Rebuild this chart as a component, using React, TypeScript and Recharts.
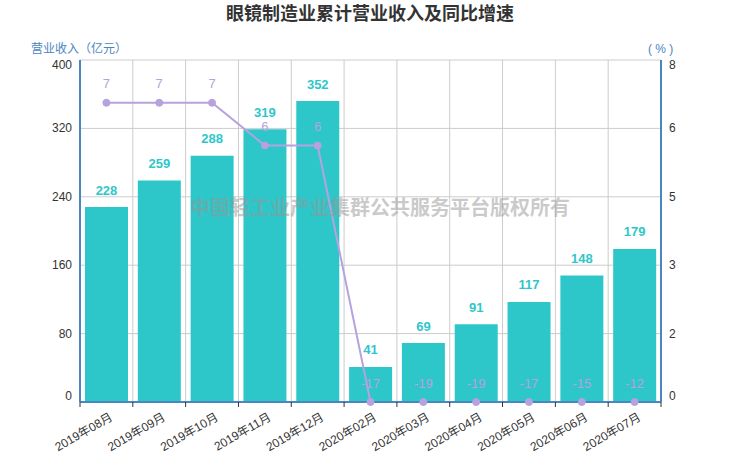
import React from 'react';
import { ComposedChart, Bar, Line, XAxis, YAxis, CartesianGrid, LabelList } from 'recharts';

const categories = ['2019年08月', '2019年09月', '2019年10月', '2019年11月', '2019年12月', '2020年02月', '2020年03月', '2020年04月', '2020年05月', '2020年06月', '2020年07月'];
const revenue = [228, 259, 288, 319, 352, 41, 69, 91, 117, 148, 179];
const growth = [7, 7, 7, 6, 6, -17, -19, -19, -17, -15, -12];
const leftTicks = [0, 80, 160, 240, 320, 400];
const rightTicks = [0, 1.6, 3.2, 4.8, 6.4, 8];

const data = categories.map((c, i) => ({ name: c, revenue: revenue[i], growth: growth[i] }));

const W = 740;
const H = 462;
const LEFT_W = 80;
const RIGHT_W = 79;
const TOP = 60;
const XAXIS_H = 60;
const PLOT_W = W - LEFT_W - RIGHT_W;
const PLOT_BOTTOM = H - XAXIS_H;
const N = categories.length;
const BAND = PLOT_W / N;

const FONT = "'Liberation Sans', Arial, 'Noto Sans CJK SC', sans-serif";
const BAR_COLOR = '#2ec7c9';
const LINE_COLOR = '#b6a2de';
const AXIS_COLOR = '#4a86bf';
const GRID_COLOR = '#cccccc';
const TEXT_COLOR = '#333333';

const LeftTick = (props: any) => {
  const { y, payload, index } = props;
  const dy = index === 0 ? -6 : index === leftTicks.length - 1 ? 5 : 0;
  return (
    <text x={LEFT_W - 8} y={y + dy} textAnchor="end" dominantBaseline="central" fontSize={12} fill={TEXT_COLOR} fontFamily={FONT}>
      {payload.value}
    </text>
  );
};

const RightTick = (props: any) => {
  const { y, payload, index } = props;
  const dy = index === 0 ? -6 : index === rightTicks.length - 1 ? 5 : 0;
  return (
    <text x={LEFT_W + PLOT_W + 8} y={y + dy} textAnchor="start" dominantBaseline="central" fontSize={12} fill={TEXT_COLOR} fontFamily={FONT}>
      {Math.round(payload.value)}
    </text>
  );
};

const XTick = (props: any) => {
  const { x, payload, index } = props;
  const ax = x + 5;
  const ay = PLOT_BOTTOM + 14;
  return (
    <g>
      <line x1={x - BAND / 2} x2={x - BAND / 2} y1={PLOT_BOTTOM} y2={PLOT_BOTTOM + 5} stroke={TEXT_COLOR} strokeWidth={1} />
      {index === N - 1 && (
        <line x1={x + BAND / 2} x2={x + BAND / 2} y1={PLOT_BOTTOM} y2={PLOT_BOTTOM + 5} stroke={TEXT_COLOR} strokeWidth={1} />
      )}
      <text x={ax} y={ay} textAnchor="end" dominantBaseline="central" transform={`rotate(-30, ${ax}, ${ay})`} fontSize={12} fill={TEXT_COLOR} fontFamily={FONT}>
        {payload.value}
      </text>
    </g>
  );
};

const LineLabel = (props: any) => {
  const { x, y, value } = props;
  return (
    <text x={x} y={y - 19} textAnchor="middle" dominantBaseline="central" fontSize={13} fill={LINE_COLOR} fontFamily={FONT}>
      {value}
    </text>
  );
};

const BarLabel = (props: any) => {
  const { x, y, width, value } = props;
  return (
    <text x={x + width / 2} y={y - 17} textAnchor="middle" dominantBaseline="central" fontSize={13} fontWeight="bold" fill={BAR_COLOR} fontFamily={FONT}>
      {value}
    </text>
  );
};

const verticalGen = (props: any) => {
  const off = props && props.offset ? props.offset : { left: LEFT_W, width: PLOT_W };
  const pts: number[] = [];
  for (let i = 1; i < N; i++) pts.push(off.left + (off.width * i) / N);
  return pts;
};

export default function App() {
  return (
    <div style={{ position: 'absolute', left: 0, top: 0, width: W, height: H, fontFamily: FONT, background: '#fff' }}>
      <div style={{ position: 'absolute', left: 0, width: W, top: 2, textAlign: 'center', fontSize: 18, fontWeight: 'bold', color: TEXT_COLOR, lineHeight: '24px' }}>
        眼镜制造业累计营业收入及同比增速
      </div>
      <div style={{ position: 'absolute', left: 31, top: 40, fontSize: 12, color: AXIS_COLOR, lineHeight: '18px', whiteSpace: 'nowrap' }}>
        营业收入（亿元）
      </div>
      <div style={{ position: 'absolute', left: 648, top: 40, fontSize: 12, color: AXIS_COLOR, lineHeight: '18px', whiteSpace: 'pre' }}>
        {'( % )'}
      </div>
      <ComposedChart width={W} height={H} data={data} margin={{ top: TOP, right: 0, bottom: 0, left: 0 }}>
        <CartesianGrid yAxisId="left" stroke={GRID_COLOR} strokeWidth={1} verticalCoordinatesGenerator={verticalGen} />
        <XAxis dataKey="name" height={XAXIS_H} interval={0} axisLine={{ stroke: AXIS_COLOR, strokeWidth: 2 }} tickLine={false} tick={<XTick />} />
        <YAxis yAxisId="left" orientation="left" width={LEFT_W} domain={[0, 400]} ticks={leftTicks} interval={0} axisLine={{ stroke: AXIS_COLOR, strokeWidth: 2 }} tickLine={false} tick={<LeftTick />} />
        <YAxis yAxisId="right" orientation="right" width={RIGHT_W} domain={[0, 8]} ticks={rightTicks} interval={0} axisLine={{ stroke: AXIS_COLOR, strokeWidth: 2 }} tickLine={false} tick={<RightTick />} />
        <Bar yAxisId="left" dataKey="revenue" fill={BAR_COLOR} barSize={43} isAnimationActive={false}>
          <LabelList dataKey="revenue" content={<BarLabel />} />
        </Bar>
        <Line yAxisId="right" dataKey={(d: any) => Math.max(0, d.growth)} stroke={LINE_COLOR} strokeWidth={2} dot={{ r: 3.5, fill: LINE_COLOR, stroke: LINE_COLOR, strokeWidth: 1 }} isAnimationActive={false}>
          <LabelList dataKey="growth" content={<LineLabel />} />
        </Line>
      </ComposedChart>
      <div style={{ position: 'absolute', left: 0, width: 760, top: 196, textAlign: 'center', fontSize: 20, fontWeight: 'bold', color: 'rgba(150,150,150,0.5)', lineHeight: '24px', pointerEvents: 'none', whiteSpace: 'nowrap' }}>
        中国轻工业产业集群公共服务平台版权所有
      </div>
    </div>
  );
}
